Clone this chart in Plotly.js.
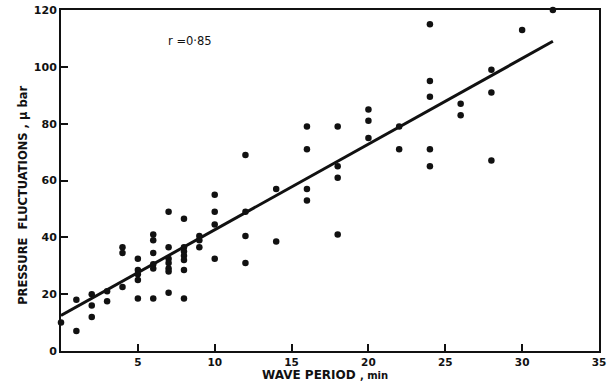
<!DOCTYPE html>
<html>
<head>
<meta charset="utf-8">
<script src="https://cdn.plot.ly/plotly-3.0.1.min.js"></script>
<style>html,body{margin:0;padding:0;background:#fff;}#chart{width:610px;height:391px;}</style>
</head>
<body>
<div id="chart"></div>
<script>
// Observed points: wave period (min) vs pressure fluctuations (μbar)
const wavePeriod = [0,1,1,2,2,2,3,3,4,4,4,5,5,5,5,5,6,6,6,6,6,6,7,7,7,7,7,7,7,8,8,8,8,8,8,8,9,9,9,10,10,10,10,12,12,12,12,14,14,16,16,16,16,18,18,18,18,20,20,20,22,22,24,24,24,24,24,26,26,28,28,28,30,32];
const pressure   = [10,18,7,20,16,12,17.5,21,22.5,36.5,34.5,32.5,28.5,27,25,18.5,41,39,34.5,30.5,29,18.5,49,36.5,32.5,31,29,28,20.5,46.5,36.5,35,33.5,32,28.5,18.5,40.5,39,36.5,55,49,44.5,32.5,69,49,40.5,31,57,38.5,79,71,57,53,79,65,61,41,85,81,75,79,71,115,95,89.5,71,65,87,83,99,91,67,113,120];
// Regression line end points
const fitX = [0, 32];
const fitY = [12.5, 109];
const xTicks = [5,10,15,20,25,30,35];
const yTicks = [0,20,40,60,80,100,120];
const corrLabel = 'r =0·85';

const fnt = 'DejaVu Sans, Liberation Sans, sans-serif';
const traces = [
  {x: fitX, y: fitY, mode: 'lines', line: {color: '#111', width: 3}, hoverinfo: 'skip'},
  {x: wavePeriod, y: pressure, mode: 'markers', marker: {color: '#111', size: 6.5}, cliponaxis: false}
];
const axisCommon = {
  showgrid: false, zeroline: false, showline: true, linecolor: '#111', linewidth: 2,
  mirror: true, ticks: 'inside', ticklen: 7, tickwidth: 2, tickcolor: '#111'
};
const layout = {
  width: 610, height: 391,
  margin: {l: 61, r: 11, t: 10, b: 40},
  paper_bgcolor: '#fff', plot_bgcolor: '#fff',
  showlegend: false,
  xaxis: Object.assign({}, axisCommon, {range: [0, 35], tickvals: xTicks, ticktext: xTicks.map(String),
    tickfont: {family: fnt, size: 10.5, color: '#111', weight: 'bold'}}),
  yaxis: Object.assign({}, axisCommon, {range: [0, 120], tickvals: yTicks, ticktext: yTicks.map(String),
    tickfont: {family: fnt, size: 11, color: '#111', weight: 'bold'}}),
  annotations: [
    {text: corrLabel, x: 8.4, y: 109, xref: 'x', yref: 'y', xanchor: 'center', yanchor: 'middle', showarrow: false,
     font: {family: fnt, size: 11.5, color: '#111'}},
    {text: 'WAVE PERIOD <span style="font-size:10px">, min</span>', x: 0.491, y: -0.0716, xref: 'paper', yref: 'paper',
     xanchor: 'center', yanchor: 'middle', showarrow: false, font: {family: fnt, size: 12, color: '#111', weight: 'bold'}},
    {text: 'PRESSURE&nbsp; FLUCTUATIONS , μ bar', x: -0.0706, y: 0.455, xref: 'paper', yref: 'paper',
     xanchor: 'center', yanchor: 'middle',
     textangle: -90, showarrow: false, font: {family: fnt, size: 11.5, color: '#111', weight: 'bold'}}
  ]
};
Plotly.newPlot('chart', traces, layout, {displayModeBar: false, staticPlot: true});
</script>
</body>
</html>
